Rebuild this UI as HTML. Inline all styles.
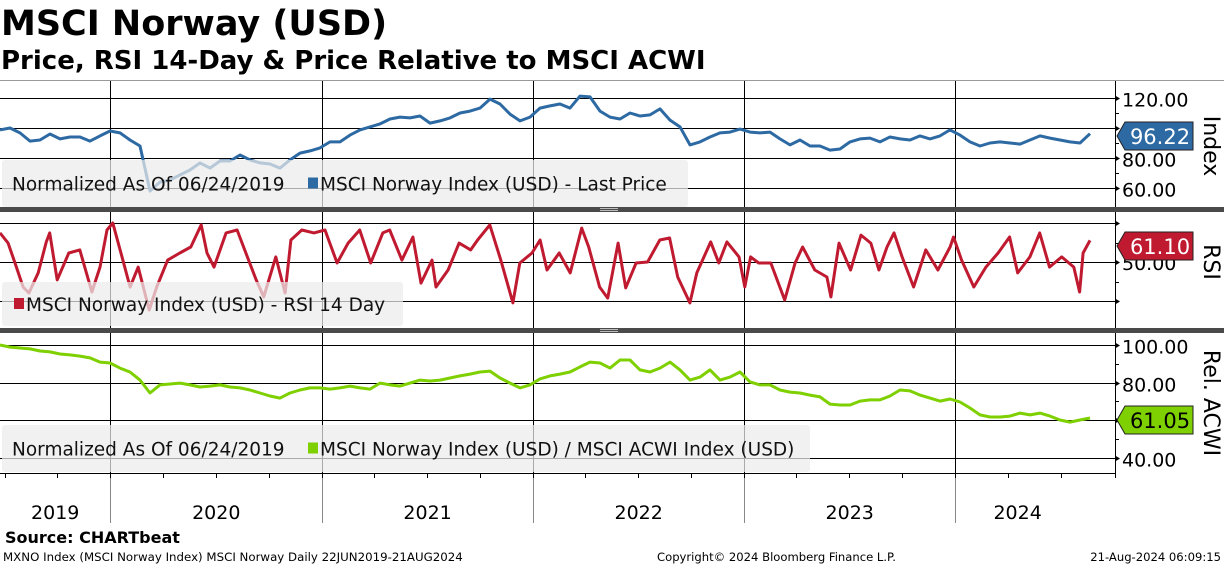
<!DOCTYPE html>
<html><head><meta charset="utf-8">
<style>
html,body{margin:0;padding:0;background:#fff;}
body{width:1224px;height:566px;overflow:hidden;font-family:"DejaVu Sans","Liberation Sans",sans-serif;}
svg{position:absolute;left:0;top:0;}
</style></head>
<body>
<svg id="chart" width="1224" height="566" xmlns="http://www.w3.org/2000/svg">
  <text x="1" y="35" font-family="DejaVu Sans, sans-serif" font-weight="bold" font-size="35">MSCI Norway (USD)</text>
  <text x="1" y="69" font-family="DejaVu Sans, sans-serif" font-weight="bold" font-size="26">Price, RSI 14-Day &amp; Price Relative to MSCI ACWI</text>
  <g id="plot"></g>
  <text x="5" y="543" font-family="DejaVu Sans, sans-serif" font-weight="bold" font-size="16">Source: CHARTbeat</text>
  <text x="3" y="561" font-family="DejaVu Sans, sans-serif" font-size="11.8">MXNO Index (MSCI Norway Index) MSCI Norway  Daily 22JUN2019-21AUG2024</text>
  <text x="657" y="561" font-family="DejaVu Sans, sans-serif" font-size="11.6">Copyright© 2024 Bloomberg Finance L.P.</text>
  <text x="1221" y="561" text-anchor="end" font-family="DejaVu Sans, sans-serif" font-size="11.6">21-Aug-2024 06:09:15</text>
</svg>
<script>
// ---- data ----
const totalDays = 1885; // 24-Jun-2019 .. 21-Aug-2024
const years = ["2019","2020","2021","2022","2023","2024"];
const yearStartDays = [0,191,557,922,1287,1652];
const priceValues = [98.7,100,96.7,91.3,92,96,92.7,94,94,91.3,94.7,98,96.7,92,88,58,64,65.3,68.7,72,76.7,73.3,78,78,82,78.7,76.7,76,73.3,78.7,83.3,84.7,86.7,90.7,90.7,95.3,98.7,100.7,102.7,106,107.3,106.7,108,103.3,104.7,106.7,110,111.3,113.3,119.3,116,109.3,104.7,107.3,113.3,114.7,116,113.3,121.3,120.7,111.3,107.3,106,110,108,108.7,112.7,105.3,100.7,88.7,90.7,94,96.7,97.3,99.3,97.3,96.7,97.3,92.7,88.7,92,88,88,85.3,86,90.7,92.7,93.3,90.7,94,92.7,92,94.7,92.7,94.7,98.7,95.3,90.7,88,90,90.7,90,89.3,92,94.7,93.3,92,90.7,90,96.22];
const rsiDays = [0,14,26,40,50,66,80,86,99,119,138,159,173,185,195,211,225,239,258,271,290,311,330,348,358,370,391,410,430,443,456,477,493,503,522,543,562,583,602,622,641,662,674,695,714,728,747,754,775,794,814,826,847,866,887,899,920,934,946,967,986,1006,1018,1037,1051,1069,1082,1100,1120,1141,1158,1172,1193,1205,1229,1243,1257,1278,1288,1298,1312,1333,1357,1375,1388,1409,1430,1437,1451,1471,1489,1506,1520,1534,1546,1560,1580,1601,1622,1643,1649,1663,1684,1705,1726,1746,1760,1781,1798,1815,1836,1857,1867,1873,1885];
const rsiValues = [64.9,59.7,49.5,37.2,34.1,44.4,60.3,64.9,40.8,54.6,56.2,34.6,47.4,66.4,70,52.6,37.2,47.4,25.4,37.2,51,54.6,57.7,69,54.6,47.4,64.9,66.4,51,40.8,32.1,52.6,34.1,61.3,66.4,64.9,66.4,49.5,59.7,66.4,49.5,64.9,66.4,51,62.8,39.2,51,37.2,45.9,59.7,56.2,61.3,69,51,29,49.5,54.6,61.3,45.9,54.6,44.4,67.4,57.7,37.2,31.5,59.7,36.7,49.5,50,61.3,62.3,42.3,29,44.4,60.3,49.5,60.3,52.6,37.2,52.6,49.5,49.5,30.5,49.5,57.7,45.9,42.3,32.1,59.7,45.9,63.8,59.7,45.9,57.7,64.9,52.6,37.2,56.2,45.9,57.7,62.8,51,37.2,47.4,54.6,62.8,44.4,52.6,64.9,47.4,52.6,47.4,34.6,54.6,61.1];
const relValues = [100,98.9,98.4,97.9,96.8,96.3,95.2,94.7,94.1,93.1,90.9,90.4,87.7,85.6,81.3,74.4,78.7,79.2,79.7,78.7,77.6,78.1,78.7,77.6,77.1,76,74.4,72.8,71.7,74.4,76,77.1,77.1,76.5,77.1,78.1,77.1,76.5,79.7,78.7,78.1,79.7,81.3,80.8,81.3,82.4,83.5,84.5,85.6,86.1,82.4,79.7,77.1,78.7,81.9,83.5,84.5,85.6,88.3,90.9,90.4,87.7,92,92,86.7,85.6,87.7,90.9,86.7,81.3,82.9,86.7,81.3,82.9,85.6,80.3,78.7,78.7,76,74.9,74.4,73.3,72.3,68.5,68,68,70.1,70.7,70.7,72.8,76,75.5,73.3,71.7,70.1,71.2,69.6,66.4,62.7,61.6,61.6,62.1,63.7,62.7,63.7,62.1,60,58.9,60,61.05];
const priceTicks = [120,100,80,60];
const rsiTicks = [70,50,30];
const relTicks = [100,80,60,40];

// ---- scales ----
const NS="http://www.w3.org/2000/svg";
const plotW = 1090, axisX = 1115;
const xDay = d => d/totalDays*plotW;
const xIdx = (i,n) => i/(n-1)*plotW;
const yPrice = v => 128 - (v-100)*1.5;
const yRsi = v => 262 - (v-50)*1.95;
const yRel = v => 345 - (v-100)*1.875;
const plot = document.getElementById('plot');
function mk(tag, attrs, parent){const e=document.createElementNS(NS,tag);for(const k in attrs)e.setAttribute(k,attrs[k]);(parent||plot).appendChild(e);return e;}

mk('line',{x1:0,y1:80.5,x2:1224,y2:80.5,stroke:'#999','stroke-width':1});
yearStartDays.forEach((d,i)=>{ if(i===0) return;
  const x = Math.round(xDay(d))+0.5;
  const l=mk('line',{x1:x,y1:81,x2:x,y2:473,stroke:'#000','stroke-width':1});
  
  
  const l2=mk('line',{x1:x,y1:473,x2:x,y2:523,stroke:'#888','stroke-width':1});
  
  
});
function grid(ticks, yf, showLabels, top, bottom){
  ticks.forEach(t=>{ const y=Math.round(yf(t))+0.5;
    const g=mk('line',{x1:0,y1:y,x2:axisX,y2:y,stroke:'#000','stroke-width':1});
    
    
    mk('path',{d:`M${axisX},${y-3} L${axisX+5},${y} L${axisX},${y+3}Z`,fill:'#000'});
    if(showLabels){ const tx=mk('text',{x:axisX+7,y:y+8,'font-size':19,'font-family':'DejaVu Sans, sans-serif'});
      tx.textContent=t.toFixed(2);
      
      }
  });
  for(let i=0;i<ticks.length-1;i++){const y=Math.round((yf(ticks[i])+yf(ticks[i+1]))/2)+0.5;
    mk('line',{x1:axisX,y1:y,x2:axisX+4,y2:y,stroke:'#000'});}
  mk('line',{x1:axisX+0.5,y1:top,x2:axisX+0.5,y2:bottom,stroke:'#000','stroke-width':1});
}
grid(priceTicks,yPrice,true,81,207);
grid(rsiTicks,yRsi,false,212,328);
{const t=mk('text',{x:axisX+7,y:Math.round(yRsi(50))+8,'font-size':19,'font-family':'DejaVu Sans, sans-serif'});t.textContent='50.00';

}
grid(relTicks,yRel,true,333,478);

function line(vals, xs, yf, color, name){
  const d = vals.map((v,i)=>(i?'L':'M')+xs(i).toFixed(1)+','+yf(v).toFixed(1)).join(' ');
  const p=mk('path',{d:d,fill:'none',stroke:color,'stroke-width':3,'stroke-linejoin':'round'});
  
  
}
line(priceValues, i=>xIdx(i,priceValues.length), yPrice, '#2d6aa3','price-line');
line(rsiValues, i=>xDay(rsiDays[i]), yRsi, '#c01a30','rsi-line');
line(relValues, i=>xIdx(i,relValues.length), yRel, '#7ed000','relative-line');

function legend(x,y,w,h,items,name){
  const g=mk('g',{});
  
  
  mk('rect',{x:x,y:y,width:w,height:h,rx:3,fill:'rgba(236,236,236,0.72)'},g);
  items.forEach(it=>{
    if(it.color) mk('rect',{x:it.x,y:y+h/2-6,width:10,height:11,fill:it.color},g);
    const t=mk('text',{x:it.x+(it.color?12:0),y:y+h/2+7,'font-size':18.5,'font-family':'DejaVu Sans, sans-serif',fill:'#111'},g);
    t.textContent=it.text;
  });
}
legend(2,160,686,47,[{x:12,text:'Normalized As Of 06/24/2019'},{x:308,color:'#2d6aa3',text:'MSCI Norway Index (USD) - Last Price'}],'price-legend');
legend(2,282,401,44,[{x:14,color:'#c01a30',text:'MSCI Norway Index (USD) - RSI 14 Day'}],'rsi-legend');
legend(2,425,808,47,[{x:12,text:'Normalized As Of 06/24/2019'},{x:308,color:'#7ed000',text:'MSCI Norway Index (USD) / MSCI ACWI Index (USD)'}],'relative-legend');

function tag(y,val,color,txtColor,name){
  const g=mk('g',{});
  
  
  mk('path',{d:`M${axisX+2},${y} L${axisX+10},${y-14} L${axisX+78},${y-14} L${axisX+78},${y+14} L${axisX+10},${y+14} Z`,fill:color,stroke:'#222','stroke-width':1},g);
  const t=mk('text',{x:axisX+45,y:y+8,'text-anchor':'middle','font-size':21,'font-family':'DejaVu Sans, sans-serif',fill:txtColor},g);
  t.textContent=val;
}
tag(136,priceValues[priceValues.length-1].toFixed(2),'#2d6aa3','#fff','last-price-tag');
tag(246,rsiValues[rsiValues.length-1].toFixed(2),'#c01a30','#fff','last-rsi-tag');
tag(420,relValues[relValues.length-1].toFixed(2),'#7ed000','#000','last-relative-tag');

[['Index',1210,146,'price-axis-title'],['RSI',1210,262,'rsi-axis-title'],['Rel. ACWI',1210,403,'relative-axis-title']].forEach(a=>{
  const t=mk('text',{x:a[1],y:a[2],'font-size':22,'font-family':'DejaVu Sans, sans-serif','text-anchor':'middle',transform:`rotate(90 ${a[1]} ${a[2]})`,'dominant-baseline':'middle'});
  t.textContent=a[0];
  
  
});

[[207,5],[328,5]].forEach(b=>{
  const r=mk('rect',{x:0,y:b[0],width:1224,height:b[1],fill:'#4a4a4a'});
  
  
  mk('rect',{x:600,y:b[0]+1,width:18,height:1,fill:'#bbb'});
  mk('rect',{x:600,y:b[0]+3,width:18,height:1,fill:'#bbb'});
});

mk('line',{x1:0,y1:473.5,x2:axisX,y2:473.5,stroke:'#000'});
const quarterDays=[8,99,191,282,373,465,557,647,738,830,922,1012,1103,1195,1287,1377,1468,1560,1652,1743,1834];
quarterDays.forEach(d=>{const x=Math.round(xDay(d))+0.5; mk('line',{x1:x,y1:473,x2:x,y2:478,stroke:'#000'});});
years.forEach((y,i)=>{
  const s=xDay(yearStartDays[i]);
  const e=i<years.length-1?xDay(yearStartDays[i+1]):plotW-10;
  const t=mk('text',{x:(s+e)/2,y:519,'text-anchor':'middle','font-size':19,'font-family':'DejaVu Sans, sans-serif'});
  t.textContent=y;
  
  
});
</script>
</body></html>
